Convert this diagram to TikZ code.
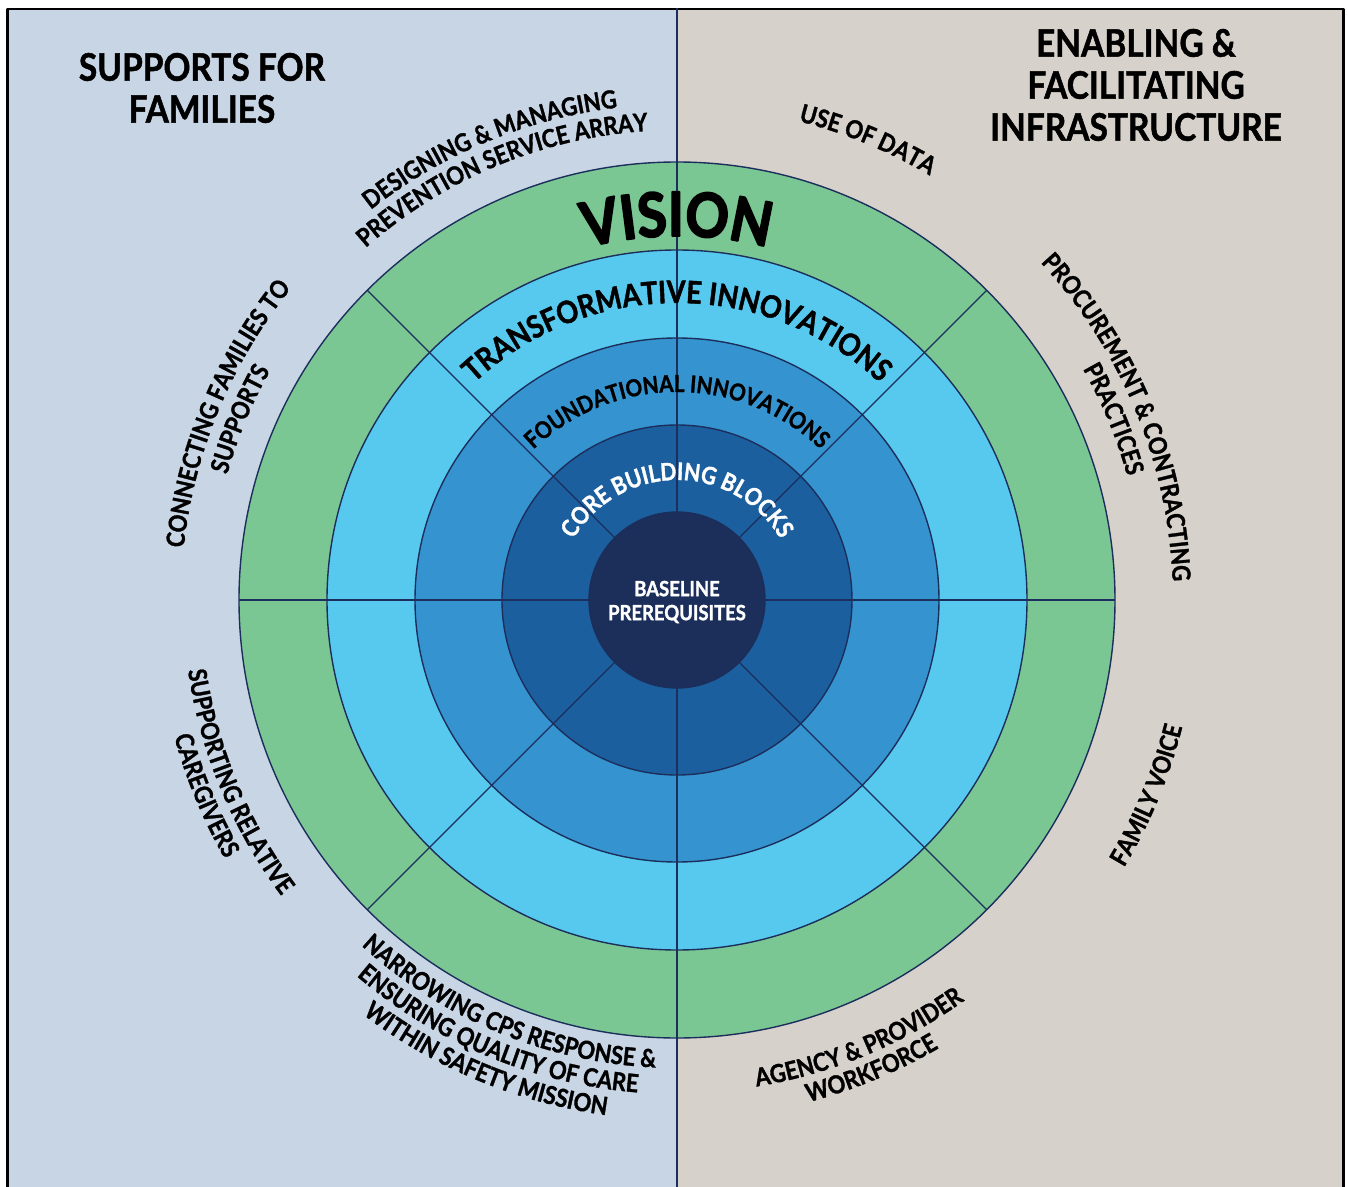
\documentclass[tikz,border=0pt]{standalone}
\usepackage{fontspec}
\setmainfont{Lato}[FakeStretch=0.88, BoldFeatures={FakeBold=1.3}]
\newfontfamily\heavyfont{Lato}[FakeStretch=0.88, BoldFeatures={FakeBold=3}]
\usetikzlibrary{decorations.text}

\definecolor{familyside}{HTML}{C8D5E4}
\definecolor{infraside}{HTML}{D6D1CA}
\definecolor{visionring}{HTML}{7BC794}
\definecolor{transring}{HTML}{57C9EE}
\definecolor{foundring}{HTML}{3594D0}
\definecolor{corering}{HTML}{1B5F9E}
\definecolor{basecore}{HTML}{1B2F5A}
\definecolor{rimline}{HTML}{1C2E5C}

\tikzset{
  ring/.style={draw=rimline, line width=1.4pt},
  spoke/.style={draw=rimline, line width=1.4pt},
  heading/.style={font=\fontsize{38}{42}\selectfont\bfseries, align=center, inner sep=0pt},
}

% text bent along a circle round the centre:
% [colour]{size}{radius}{from angle}{to angle}{text}
\newcommand{\ringtext}[6][black]{%
  \path[decorate, decoration={text along path, text align=center,
      text={|\fontsize{#2}{#2}\selectfont\bfseries\color{#1}|#6}}]
    (#4:#3) arc[start angle=#4, end angle=#5, radius=#3];}

\begin{document}
\begin{tikzpicture}[x=1pt, y=1pt, line join=round]
  \useasboundingbox (-677,-586) rectangle (671,600);
  \clip (-677,-586) rectangle (671,600);
  \fill[white] (-677,-586) rectangle (671,600);

  % the two halves
  \fill[familyside] (-669.5,-600) rectangle (0,591);
  \fill[infraside] (0,-600) rectangle (666.5,591);
  \draw[line width=2.5pt] (-669.5,-600) -- (-669.5,591) -- (666.5,591) -- (666.5,-600);

  % rings, outside in
  \foreach \r/\c in {438/visionring, 350/transring, 262/foundring, 175/corering, 88/basecore}
    \draw[ring, fill=\c] (0,0) circle[radius=\r];

  % spokes
  \foreach \a in {0,45,135,180,225,315}
    \draw[spoke] (\a:88) -- (\a:438);
  \draw[spoke] (0,592) -- (0,88);
  \draw[spoke] (0,-88) -- (0,-600);

  % headings
  \node[heading] (familieshead) at (-475,512) {SUPPORTS FOR\\FAMILIES};
  \node[heading] (infrahead) at (459,515) {ENABLING \&\\FACILITATING\\INFRASTRUCTURE};
  \node[font=\fontsize{21}{24}\selectfont\bfseries, text=white, align=center, inner sep=0pt]
    (basecorelabel) at (0,-2) {BASELINE\\PREREQUISITES};

  % ring names
  \path[decorate, decoration={text along path, text align=center,
      text={|\heavyfont\fontsize{61}{61}\selectfont\bfseries|VISION}}]
    (150:364) arc[start angle=150, end angle=30, radius=364];
  \ringtext{31}{297}{175}{5}{TRANSFORMATIVE INNOVATIONS}
  \ringtext{23.5}{208}{180}{0}{FOUNDATIONAL INNOVATIONS}
  \ringtext[white]{24}{120}{200}{-20}{CORE BUILDING BLOCKS}

  % supports for families
  \ringtext{25}{496}{162.5}{62.5}{DESIGNING {\&} MANAGING}
  \ringtext{25}{470}{162.5}{62.5}{PREVENTION SERVICE ARRAY}
  \ringtext{25}{496}{207.5}{107.5}{CONNECTING FAMILIES TO}
  \ringtext{25}{467}{207.5}{107.5}{SUPPORTS}
  \ringtext{25}{494}{152.5}{252.5}{SUPPORTING RELATIVE}
  \ringtext{25}{521}{152.5}{252.5}{CAREGIVERS}
  \ringtext{25}{468}{197.5}{297.5}{NARROWING CPS RESPONSE {\&}}
  \ringtext{25}{494}{197.5}{297.5}{ENSURING QUALITY OF CARE}
  \ringtext{25}{520}{197.5}{297.5}{WITHIN SAFETY MISSION}

  % infrastructure
  \ringtext{25}{494}{117.5}{17.5}{USE OF DATA}
  \ringtext{25}{496}{72.5}{-27.5}{PROCUREMENT {\&} CONTRACTING}
  \ringtext{25}{467}{72.5}{-27.5}{PRACTICES}
  \ringtext{25}{493}{242.5}{342.5}{AGENCY {\&} PROVIDER}
  \ringtext{25}{519}{242.5}{342.5}{WORKFORCE}
  \ringtext{25}{521}{287.5}{387.5}{FAMILY VOICE}
\end{tikzpicture}
\end{document}
